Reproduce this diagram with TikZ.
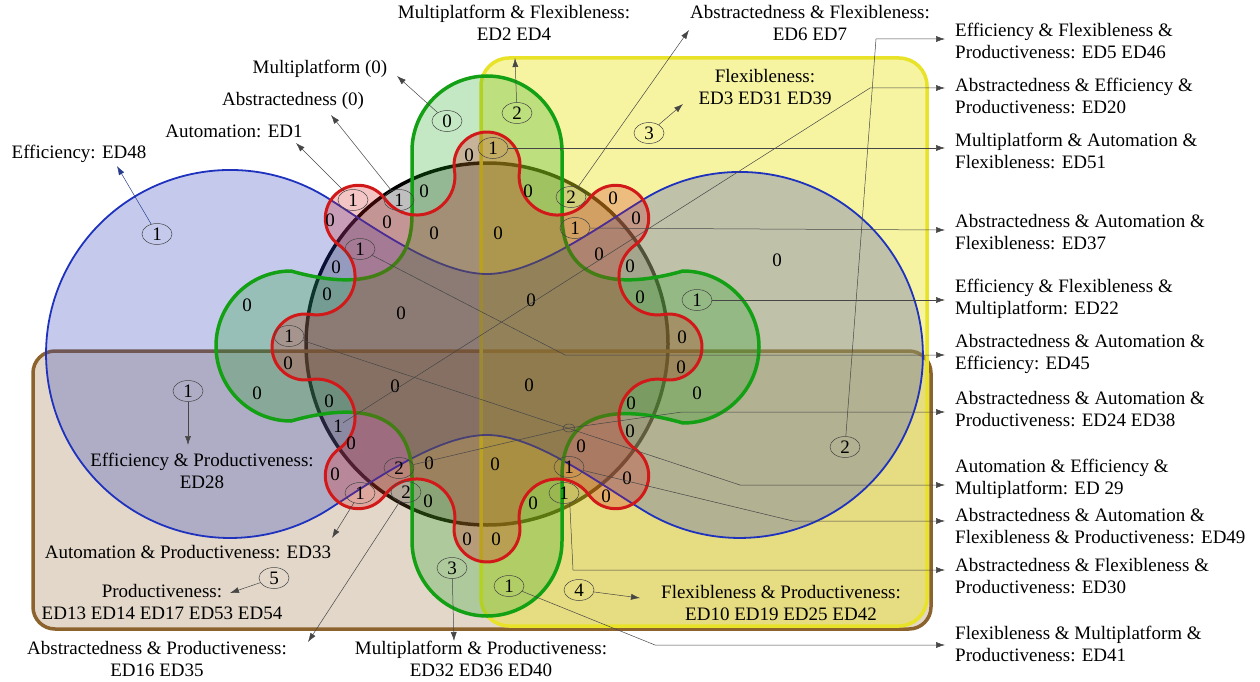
\documentclass[tikz,border=0pt]{standalone}
\usepackage{fontspec}
\setmainfont{Liberation Serif}
\usetikzlibrary{shapes.geometric,arrows.meta,calc}
\definecolor{cblue}{RGB}{30,50,190}
\definecolor{cbluef}{RGB}{40,60,190}
\definecolor{cgreen}{RGB}{20,160,20}
\definecolor{cred}{RGB}{210,25,25}
\definecolor{cbrown}{RGB}{140,98,45}
\definecolor{cbrownf}{RGB}{140,95,40}
\definecolor{cyel}{RGB}{232,226,40}
\definecolor{cyelf}{RGB}{235,228,20}
\definecolor{leadc}{RGB}{70,70,70}
\definecolor{leadb}{RGB}{40,60,140}
\begin{document}
\begin{tikzpicture}[x=1pt,y=-1pt,
  every node/.style={font=\fontsize{19}{22.5}\selectfont, inner sep=0pt},
  circset/.style={draw=black, line width=3.5pt, fill=black, fill opacity=0.25},
  blueset/.style={draw=cblue, line width=1.8pt, fill=cbluef, fill opacity=0.27},
  greenset/.style={draw=cgreen, line width=3.5pt, fill=cgreen, fill opacity=0.25},
  redset/.style={draw=cred, line width=3pt, fill=cred, fill opacity=0.25},
  brownset/.style={draw=cbrown, line width=3.5pt, fill=cbrownf, fill opacity=0.25, rounded corners=22pt},
  yelset/.style={draw=cyel, line width=3.5pt, fill=cyelf, fill opacity=0.4, rounded corners=28pt},
  ell/.style={ellipse, draw=leadc, line width=0.5pt, minimum width=30pt, minimum height=21pt},
  leadline/.style={draw=leadc, line width=0.5pt},
  arr/.style={leadline, -{Latex[length=9pt,width=6pt]}},
  lbl/.style={align=center},
  rlbl/.style={align=left, anchor=west}
]
\useasboundingbox (0,0) rectangle (1260,682);
% ---------- sets ----------
\path[circset] (487,344) circle[radius=181];
\path[brownset] (33,351) rectangle (931,629);
\path[yelset] (481,58) rectangle (927,626);
\path[blueset] (487,274) .. controls (440,274) and (380,232) .. (330,199.5)
  arc[start angle=-57.1, end angle=-302.9, radius=184]
  .. controls (380,476) and (440,435) .. (487,435)
  .. controls (534,435) and (593,479.5) .. (644,510.8)
  arc[start angle=121.6, end angle=-121.6, radius=183]
  .. controls (593,230.5) and (534,274) .. (487,274) -- cycle;
\path[greenset] (412,215) -- (412,151) arc[start angle=180, end angle=360, radius=75]
  -- (562,215) .. controls (562,292) and (634,285) .. (683,271)
  arc[start angle=-90, end angle=90, radius=76]
  .. controls (634,409) and (562,400) .. (562,477)
  -- (562,541) arc[start angle=0, end angle=180, radius=75]
  -- (412,477) .. controls (412,400) and (340,407) .. (291,421)
  arc[start angle=90, end angle=270, radius=75]
  .. controls (340,285) and (412,292) .. (412,215) -- cycle;
\path[redset] (519.57,170.30) \foreach \k in {0,...,7}{
  arc[start angle={-90-45*\k+99.24}, end angle={-90-45*\k-99.24}, radius=33]
  arc[start angle={-90-45*\k+80.76}, end angle={-90-45*\k+234.24}, radius=38.56]
} -- cycle;
% ---------- region numbers ----------
\node (z1) at (469,155) {0};
\node (z2) at (424,191) {0};
\node (z3) at (528,191) {0};
\node (z4) at (387,222) {0};
\node (z5) at (434,233) {0};
\node (z6) at (498,233) {0};
\node (z7) at (613,198) {0};
\node (z8) at (636,218) {0};
\node (z9) at (599,254) {0};
\node (z10) at (630,266) {0};
\node (z11) at (640,297) {0};
\node (z12) at (531,300) {0};
\node (z13) at (401,313) {0};
\node (z14) at (330,220) {0};
\node (z15) at (336,267) {0};
\node (z16) at (327,294) {0};
\node (z17) at (247,305) {0};
\node (z18) at (777,260) {0};
\node (z19) at (288,363) {0};
\node (z20) at (257,393) {0};
\node (z21) at (329,401) {0};
\node (z22) at (395,386) {0};
\node (z23) at (529,385) {0};
\node (z24) at (682,337) {0};
\node (z25) at (681,367) {0};
\node (z26) at (697,393) {0};
\node (z27) at (631,403) {0};
\node (z28) at (630,431) {0};
\node (z29) at (581,446) {0};
\node (z30) at (627,478) {0};
\node (z31) at (606,496) {0};
\node (z32) at (351,443) {0};
\node (z33) at (335,474) {0};
\node (z34) at (429,463) {0};
\node (z35) at (495,464) {0};
\node (z36) at (428,501) {0};
\node (z37) at (533,503) {0};
\node (z38) at (467,539) {0};
\node (z39) at (496,539) {0};
\node (n20) at (338,426) {1};
% ---------- numbers in ellipses ----------
\node[ell] (e48) at (157,234) {1};
\node[ell] (eED1) at (353,200) {1};
\node[ell] (eAbs) at (399,200) {1};
\node[ell] (eMul) at (447,121) {0};
\node[ell] (eMF) at (517,113) {2};
\node[ell] (eAF) at (571,197) {2};
\node[ell] (eF) at (649,133) {3};
\node[ell] (eMAF) at (493,148) {1};
\node[ell] (eAAF) at (575,228) {1};
\node[ell] (eEFM) at (697,300) {1};
\node[ell] (eAAE) at (360,249) {1};
\node[ell] (eAEM) at (289,336) {1};
\node[ell] (eEP) at (188,391) {1};
\node[ell] (eAPa) at (360,493) {1};
\node[ell] (eAAP) at (399,468) {2};
\node[ell] (eAbP) at (406,492) {2};
\node[ell] (eAAFP) at (569,467) {1};
\node[ell] (eAFP) at (564,493) {1};
\node[ell] (eMP) at (452,568) {3};
\node[ell] (eFMP) at (509,586) {1};
\node[ell] (eFP) at (579,590) {4};
\node[ell] (eP) at (274,578) {5};
\node[ell] (eEFP) at (845,447) {2};
\node[ellipse, draw=leadc, line width=0.5pt, minimum width=12pt, minimum height=8pt] (esm) at (569,428) {};
% ---------- labels ----------
\node[lbl] (lE48) at (79,154) {Efficiency: ED48};
\node[lbl] (lED1) at (234,131) {Automation: ED1};
\node[lbl] (lAbs) at (293,101) {Abstractedness (0)};
\node[lbl] (lMul) at (320,69) {Multiplatform (0)};
\node[lbl] (lMF) at (514,23) {Multiplatform \& Flexibleness:\\ED2 ED4};
\node[lbl] (lAF) at (810,23) {Abstractedness \& Flexibleness:\\ED6 ED7};
\node[lbl] (lF) at (765,87) {Flexibleness:\\ED3 ED31 ED39};
\node[lbl] (lEP) at (202,471) {Efficiency \& Productiveness:\\ED28};
\node[lbl] (lAPa) at (188,552) {Automation \& Productiveness: ED33};
\node[lbl] (lP) at (162,602) {Productiveness:\\ED13 ED14 ED17 ED53 ED54};
\node[lbl] (lAbP) at (157,659) {Abstractedness \& Productiveness:\\ED16 ED35};
\node[lbl] (lMP) at (481,659) {Multiplatform \& Productiveness:\\ED32 ED36 ED40};
\node[lbl] (lFP) at (781,603) {Flexibleness \& Productiveness:\\ED10 ED19 ED25 ED42};
\node[rlbl] (r5) at (955,41) {Efficiency \& Flexibleness \&\\Productiveness: ED5 ED46};
\node[rlbl] (r20) at (955,96) {Abstractedness \& Efficiency \&\\Productiveness: ED20};
\node[rlbl] (r51) at (955,151) {Multiplatform \& Automation \&\\Flexibleness: ED51};
\node[rlbl] (r37) at (955,232) {Abstractedness \& Automation \&\\Flexibleness: ED37};
\node[rlbl] (r22) at (955,299) {Efficiency \& Flexibleness \&\\Multiplatform: ED22};
\node[rlbl] (r45) at (955,354) {Abstractedness \& Automation \&\\Efficiency: ED45};
\node[rlbl] (r24) at (955,409) {Abstractedness \& Automation \&\\Productiveness: ED24 ED38};
\node[rlbl] (r29) at (955,479) {Automation \& Efficiency \&\\Multiplatform: ED 29};
\node[rlbl] (r49) at (955,526) {Abstractedness \& Automation \&\\Flexibleness \& Productiveness: ED49};
\node[rlbl] (r30) at (955,576) {Abstractedness \& Flexibleness \&\\Productiveness: ED30};
\node[rlbl] (r41) at (955,644) {Flexibleness \& Multiplatform \&\\Productiveness: ED41};
% ---------- arrow tips ----------
\coordinate (a48) at (117,166);
\coordinate (aED1) at (296,143);
\coordinate (aAbs) at (331,115);
\coordinate (aMul) at (397,76);
\coordinate (aMF) at (515,58);
\coordinate (aAF) at (689,30);
\coordinate (aF) at (683,104);
\coordinate (aEP) at (188,445);
\coordinate (aAPa) at (332,538);
\coordinate (aP) at (230,593);
\coordinate (aAbP) at (308,642);
\coordinate (aMP) at (454,641);
\coordinate (aFP) at (640,598);
\coordinate (t5) at (945,39);
\coordinate (t20) at (945,88);
\coordinate (t51) at (945,148);
\coordinate (t37) at (945,230);
\coordinate (t22) at (945,300);
\coordinate (t45) at (945,355);
\coordinate (t24) at (945,412);
\coordinate (t29) at (945,485);
\coordinate (t49) at (945,521);
\coordinate (t30) at (945,570);
\coordinate (t41) at (945,645);
% ---------- connectors ----------
\draw[arr, draw=leadb] (e48) -- (a48);
\draw[arr] (eED1) -- (aED1);
\draw[arr] (eAbs) -- (aAbs);
\draw[arr] (eMul) -- (aMul);
\draw[arr] (eMF) -- (aMF);
\draw[arr] (eAF) -- (aAF);
\draw[arr] (eF) -- (aF);
\draw[arr] (eEP) -- (aEP);
\draw[arr] (eAPa) -- (aAPa);
\draw[arr] (eP) -- (aP);
\draw[arr] (eAbP) -- (aAbP);
\draw[arr] (eMP) -- (aMP);
\draw[arr] (eFP) -- (aFP);
\draw[arr] (eEFP) -- (876,39) -- (t5);
\draw[arr] (n20) -- (870,88) -- (t20);
\draw[arr] (eMAF) -- (t51);
\draw[arr] (eAAF) -- (t37);
\draw[arr] (eEFM) -- (t22);
\draw[arr] (eAAE) -- (565,355) -- (t45);
\draw[arr] (eAAP) -- (esm.center) -- (682,412) -- (t24);
\draw[arr] (eAEM) -- (740,485) -- (t29);
\draw[arr] (eAAFP) -- (793,521) -- (t49);
\draw[arr] (eAFP.-60) -- (573,570) -- (t30);
\draw[arr] (eFMP) -- (655,645) -- (t41);
\end{tikzpicture}
\end{document}
